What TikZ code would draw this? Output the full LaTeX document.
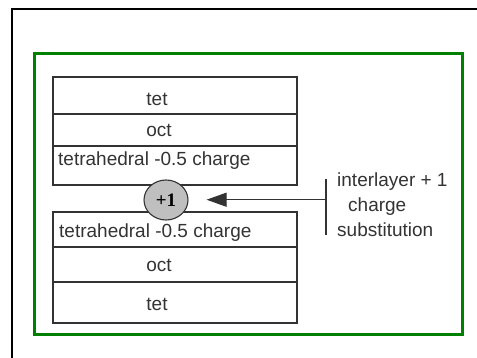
\documentclass[tikz,border=0pt]{standalone}
\usepackage{fontspec}
\setmainfont{Liberation Sans}
\newfontfamily\ionfont{Liberation Serif}
\usetikzlibrary{arrows.meta,shapes.geometric}
\begin{document}
\begin{tikzpicture}[x=1pt,y=-1pt,
   layer/.style={draw=black!80,line width=1.1pt},
   lbl/.style={text=black!80,font=\fontsize{19}{23}\selectfont,inner sep=0pt}]
   \useasboundingbox (0,0) rectangle (477,358);
   \draw[line width=2pt] (12,358) -- (12,9) -- (477,9);
   \draw[line width=3pt,draw=green!50!black] (34,54) rectangle (462,335);

   % upper sheet
   \draw[layer] (53,77) rectangle (297,185);
   \draw[layer] (53,114) -- (297,114);
   \draw[layer] (53,146) -- (297,146);
   \node[lbl] (tetA) at (157,99) {tet};
   \node[lbl] (octA) at (159,130) {oct};
   \node[lbl,anchor=west] (chgA) at (58,161) {tetrahedral -0.5 charge};

   % lower sheet
   \draw[layer] (53,212) rectangle (297,323);
   \draw[layer] (53,247) -- (297,247);
   \draw[layer] (53,282) -- (297,282);
   \node[lbl,anchor=west] (chgB) at (59,233) {tetrahedral -0.5 charge};
   \node[lbl] (octB) at (159,265) {oct};
   \node[lbl] (tetB) at (157,304) {tet};

   % interlayer cation
   \node[draw=black!80,line width=1.1pt,fill=black!25,ellipse,minimum width=44pt,minimum height=40pt,
      inner sep=0pt,font=\ionfont\bfseries\fontsize{19}{23}\selectfont] (ion) at (166,200) {+1};

   \draw[layer] (326,179) -- (326,235) coordinate[pos=.37] (bar);
   \draw[layer,-{Triangle[length=20pt,width=14pt]}] (bar) -- ([xshift=18pt]ion.east |- bar);
   \node[lbl,anchor=west] (txtA) at (337,182) {interlayer + 1};
   \node[lbl,anchor=west] (txtB) at (348,207) {charge};
   \node[lbl,anchor=west] (txtC) at (337,230) {substitution};
\end{tikzpicture}
\end{document}
